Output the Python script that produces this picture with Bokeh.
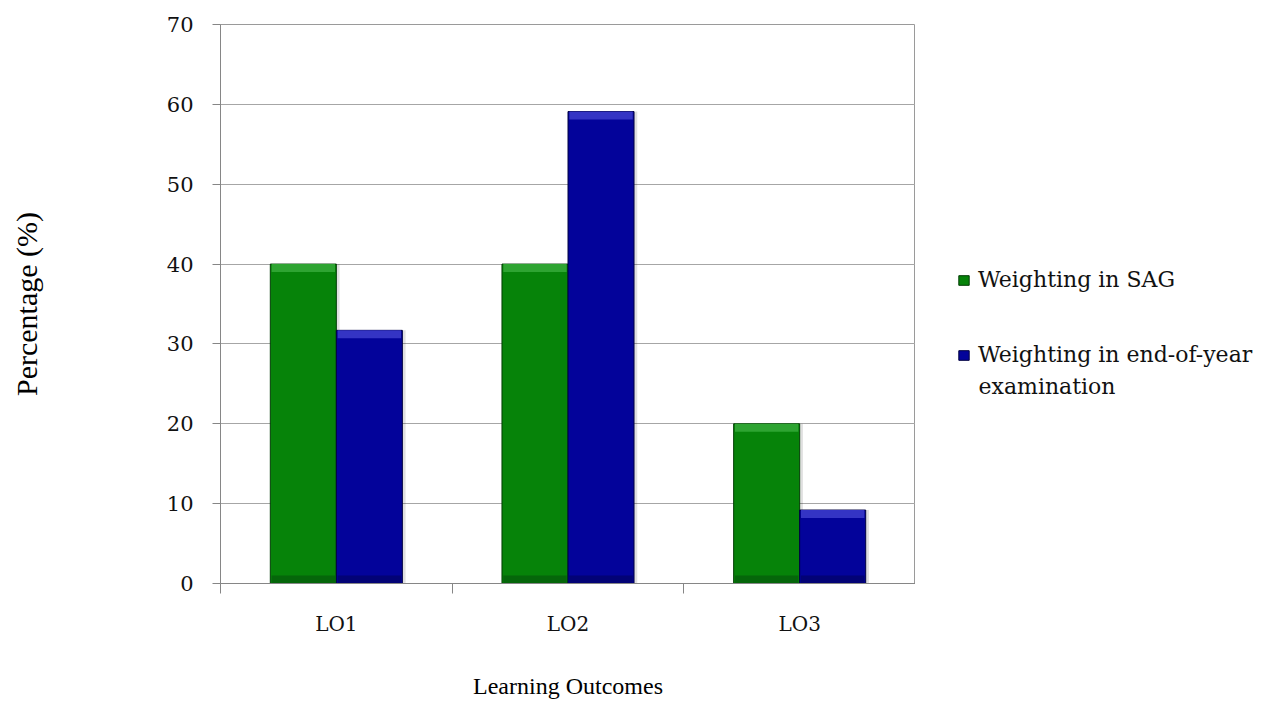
from bokeh.plotting import figure
from bokeh.models import (ColumnDataSource, Range1d, FixedTicker, Legend, LegendItem, Label)
from bokeh.layouts import row
from bokeh.transform import dodge
from bokeh.embed import file_html
from bokeh.resources import INLINE

categories = ["LO1", "LO2", "LO3"]
sag = [40, 40, 20]
exam = [31.7, 59.1, 9.2]
series_names = ["Weighting in SAG", "Weighting in end-of-year"]
series_name_cont = "examination"
y_ticks = [0, 10, 20, 30, 40, 50, 60, 70]

xc = [i + 0.5 for i in range(len(categories))]
src = ColumnDataSource(dict(
    x=xc, sag=sag, exam=exam,
    sag_hi=[v - 1.0 for v in sag], exam_hi=[v - 1.0 for v in exam],
    base_hi=[1.0] * len(categories), zero=[0] * len(categories),
))

p = figure(width=915, height=702, output_backend="svg", toolbar_location=None,
           x_range=Range1d(0, len(categories)), y_range=Range1d(0, 70),
           min_border_left=220, min_border_right=0, min_border_top=24,
           min_border_bottom=119, background_fill_color="white",
           border_fill_color="white", outline_line_color="#9a9a9a")

W = 0.285
OFF = 0.1425
SH = 0.014
GREEN, GREEN_HI, GREEN_LO, GREEN_EDGE = "#068309", "#2ea432", "#05660a", "#033d05"
BLUE, BLUE_HI, BLUE_LO, BLUE_EDGE = "#03039a", "#3434c4", "#020275", "#010140"

# soft shadows
p.vbar(x=dodge("x", -OFF + SH, range=p.x_range), top="sag", bottom="zero", width=W, source=src,
       fill_color="#000000", fill_alpha=0.12, line_color=None)
p.vbar(x=dodge("x", OFF + SH, range=p.x_range), top="exam", bottom="zero", width=W, source=src,
       fill_color="#000000", fill_alpha=0.12, line_color=None)

p.vbar(x=dodge("x", -OFF, range=p.x_range), top="sag", bottom="zero", width=W, source=src,
       fill_color=GREEN, line_color=GREEN_EDGE, line_width=1)
p.vbar(x=dodge("x", -OFF, range=p.x_range), top="sag", bottom="sag_hi", width=W * 0.96, source=src,
       fill_color=GREEN_HI, line_color=None)
p.vbar(x=dodge("x", -OFF, range=p.x_range), top="base_hi", bottom="zero", width=W * 0.96, source=src,
       fill_color=GREEN_LO, line_color=None)
p.vbar(x=dodge("x", OFF, range=p.x_range), top="exam", bottom="zero", width=W, source=src,
       fill_color=BLUE, line_color=BLUE_EDGE, line_width=1)
p.vbar(x=dodge("x", OFF, range=p.x_range), top="exam", bottom="exam_hi", width=W * 0.96, source=src,
       fill_color=BLUE_HI, line_color=None)
p.vbar(x=dodge("x", OFF, range=p.x_range), top="base_hi", bottom="zero", width=W * 0.96, source=src,
       fill_color=BLUE_LO, line_color=None)

# Axes
xa = p.xaxis[0]
xa.ticker = FixedTicker(ticks=xc, minor_ticks=list(range(len(categories) + 1)))
xa.major_label_overrides = {x: c for x, c in zip(xc, categories)}
xa.major_tick_line_color = None
xa.minor_tick_out = 10
xa.minor_tick_in = 0
xa.minor_tick_line_color = "#868686"
xa.axis_line_color = "#868686"
xa.major_label_standoff = 18
xa.major_label_text_font = "DejaVu Serif"
xa.major_label_text_font_size = "20px"
xa.major_label_text_color = "#111111"
xa.axis_label = "Learning Outcomes"
xa.axis_label_text_font = "Liberation Serif"
xa.axis_label_text_font_style = "normal"
xa.axis_label_text_font_size = "24px"
xa.axis_label_text_color = "#000000"
xa.axis_label_standoff = 34

ya = p.yaxis[0]
ya.ticker = FixedTicker(ticks=y_ticks)
ya.minor_tick_line_color = None
ya.major_tick_out = 8
ya.major_tick_in = 0
ya.major_tick_line_color = "#868686"
ya.axis_line_color = "#868686"
ya.major_label_standoff = 19
ya.major_label_text_font = "DejaVu Serif"
ya.major_label_text_font_size = "21px"
ya.major_label_text_color = "#111111"
ya.axis_label = "Percentage (%)"
ya.axis_label_text_font = "Liberation Serif"
ya.axis_label_text_font_style = "normal"
ya.axis_label_text_font_size = "30px"
ya.axis_label_text_color = "#000000"
ya.axis_label_standoff = 121

p.xgrid.grid_line_color = None
p.ygrid.grid_line_color = "#a6a6a6"
p.ygrid.grid_line_width = 1

# Legend panel (separate figure to the right)
q = figure(width=352, height=702, output_backend="svg", toolbar_location=None,
           x_range=Range1d(0, 1), y_range=Range1d(0, 1),
           x_axis_type=None, y_axis_type=None,
           min_border_left=0, min_border_right=0, min_border_top=0, min_border_bottom=0,
           outline_line_color=None, background_fill_color="white", border_fill_color="white")
q.xgrid.visible = False
q.ygrid.visible = False
proxy = ColumnDataSource(dict(x=[float("nan")], top=[float("nan")]))
lg = q.vbar(x="x", top="top", width=0.1, source=proxy, fill_color=GREEN, line_color=GREEN_EDGE)
lb = q.vbar(x="x", top="top", width=0.1, source=proxy, fill_color=BLUE, line_color=BLUE_EDGE)

legend = Legend(items=[LegendItem(label=series_names[0], renderers=[lg]),
                       LegendItem(label=series_names[1], renderers=[lb])],
                location=(42, 216), orientation="vertical",
                glyph_width=13, glyph_height=12, label_standoff=8,
                label_text_font="DejaVu Serif", label_text_font_size="22px",
                label_text_color="#111111", spacing=50, padding=0, margin=0,
                border_line_color=None, background_fill_alpha=0)
q.add_layout(legend, "center")
q.add_layout(Label(x=63, y=197, x_units="screen", y_units="screen", text=series_name_cont,
                   text_font="DejaVu Serif", text_font_size="22px", text_color="#111111",
                   text_baseline="alphabetic"))

layout = row(p, q, spacing=0)
open("out.html", "w").write(file_html(layout, INLINE))
